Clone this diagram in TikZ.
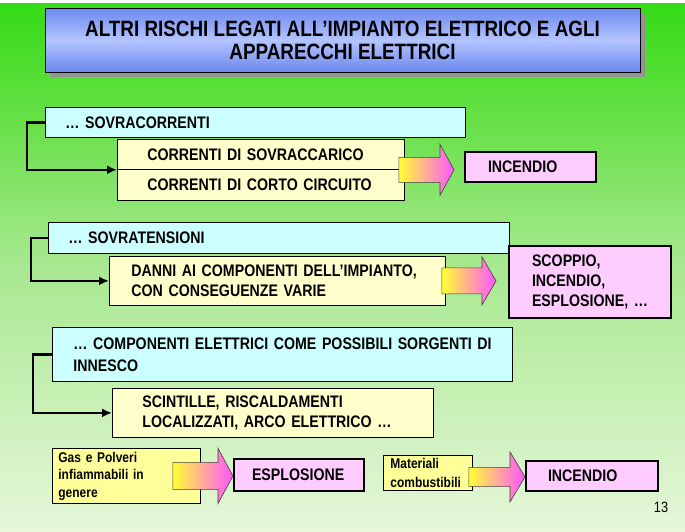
\documentclass[tikz,border=0pt]{standalone}
\usepackage{fontspec}
\setmainfont{Liberation Sans}[FakeStretch=0.85]
\usepackage{xcolor}
\definecolor{risbgtop}{HTML}{35DC16}
\definecolor{risbgup}{HTML}{5EDF3E}
\definecolor{risbgmid}{HTML}{A6E88E}
\definecolor{risbgbot}{HTML}{E6F7DA}
\definecolor{ristitle}{HTML}{6A88EE}
\definecolor{ristitlelt}{HTML}{B4C4FF}
\definecolor{riscyan}{HTML}{CCFFFF}
\definecolor{risyel}{HTML}{FFFFCC}
\definecolor{risyeldk}{HTML}{FFFF99}
\definecolor{rispink}{HTML}{FFCCFF}
\definecolor{risarryel}{HTML}{FFFF33}
\definecolor{risarrmag}{HTML}{FF55FF}
\usepackage{tikz}
\usetikzlibrary{arrows.meta,calc,shadows}

% fat shaded arrow: tail, tip, half body, half head, head length
\newcommand{\bigarrow}[5]{%
  \path[bigarr] let \p1=(#1), \p2=(#2) in
    (\x1,\y1+#3) -- (\x2-#5,\y1+#3) -- (\x2-#5,\y1+#4) -- (\x2,\y1)
    -- (\x2-#5,\y1-#4) -- (\x2-#5,\y1-#3) -- (\x1,\y1-#3) -- cycle;}

\begin{document}
\begin{tikzpicture}[x=1pt,y=-1pt,
  titlebox/.style={draw,line width=1pt,top color=ristitle,bottom color=ristitle,middle color=ristitlelt,
    minimum width=595pt,minimum height=64pt,inner sep=0pt,align=center,
    font=\bfseries\fontsize{22.2}{23}\selectfont,
    general shadow={fill=gray!85,shadow xshift=5pt,shadow yshift=-5pt}},
  box/.style={draw,line width=0.8pt,anchor=north west,inner ysep=0pt,align=left,
    font=\bfseries\fontsize{16.7}{20}\selectfont},
  small/.style={font=\bfseries\fontsize{14.1}{17.5}\selectfont},
  result/.style={box,fill=rispink,line width=2pt},
  conn/.style={line width=2.3pt,-{Latex[length=10pt,width=9pt]}},
  bigarr/.style={draw=black!75,line width=0.6pt,left color=risarryel,right color=risarrmag}]
\useasboundingbox (0,0) rectangle (685,531);
\fill[top color=risbgtop,bottom color=risbgup] (0,3) rectangle (685,100.5);
\fill[top color=risbgup,bottom color=risbgmid] (0,100) rectangle (685,260.5);
\fill[top color=risbgmid,bottom color=risbgbot] (0,260) rectangle (685,531);

\node[titlebox] (titolo) at (342.5,40) {ALTRI RISCHI LEGATI ALL’IMPIANTO ELETTRICO E AGLI\\APPARECCHI ELETTRICI};

\node[box,fill=riscyan,text width=380pt,inner xsep=20pt,minimum height=30pt] (sovracorr) at (45,107) {… SOVRACORRENTI};
\node[box,fill=risyel,text width=227pt,inner xsep=30pt,minimum height=30pt] (sovraccarico) at (117,139) {CORRENTI DI SOVRACCARICO};
\node[box,fill=risyel,text width=227pt,inner xsep=30pt,minimum height=31pt] (cortocirc) at (117,169) {CORRENTI DI CORTO CIRCUITO};
\node[result,text width=85pt,inner xsep=23pt,minimum height=30pt] (incendio1) at (464,151) {INCENDIO};

\node[box,fill=riscyan,text width=421pt,inner xsep=20pt,minimum height=31pt] (sovraten) at (48,222) {… SOVRATENSIONI};
\node[box,fill=risyel,text width=292pt,inner xsep=22pt,minimum height=49pt] (danni) at (109,256) {\mbox{DANNI AI COMPONENTI DELL’IMPIANTO,}\\CON CONSEGUENZE VARIE};
\node[result,text width=116pt,inner xsep=23pt,minimum height=72pt] (scoppio) at (508,245) {SCOPPIO,\\INCENDIO,\\\mbox{ESPLOSIONE, …}};

\node[box,fill=riscyan,text width=418pt,inner xsep=21pt,minimum height=54pt,
  font=\bfseries\fontsize{16.7}{22}\selectfont] (componenti) at (52,327) {\mbox{… COMPONENTI ELETTRICI COME POSSIBILI SORGENTI DI}\\INNESCO};
\node[box,fill=risyel,text width=261pt,inner xsep=30pt,minimum height=49pt] (scintille) at (112,388) {SCINTILLE, RISCALDAMENTI\\\mbox{LOCALIZZATI, ARCO ELETTRICO …}};

\node[box,small,fill=risyeldk,text width=136pt,inner xsep=6pt,minimum height=55pt] (gas) at (52,448) {Gas e Polveri\\infiammabili in\\genere};
\node[result,text width=94pt,inner xsep=18pt,minimum height=32pt] (esplosione) at (233,458) {ESPLOSIONE};
\node[box,fill=risyeldk,text width=75pt,inner xsep=7pt,minimum height=35pt,
  font=\bfseries\fontsize{14.1}{19}\selectfont] (materiali) at (383,455) {Materiali\\combustibili};
\node[result,text width=88pt,inner xsep=22pt,minimum height=30pt] (incendio2) at (525,460) {INCENDIO};

\node[font=\fontsize{15}{17}\selectfont] (pagina) at (661,507) {13};

\draw[conn] (sovracorr.west) -- ++(-18,0) |- (sovraccarico.south west);
\draw[conn] (sovraten.west) -- ++(-17,0) |- (danni.west);
\draw[conn] (componenti.west) -- ++(-19,0) |- (scintille.west);

\bigarrow{$(sovraccarico.south east)+(-6,0)$}{$(sovraccarico.south east -| incendio1.west)+(-10,0)$}{12.5pt}{25.5pt}{14pt}
\bigarrow{$(danni.east)+(-4,0)$}{$(danni.east -| scoppio.west)+(-12,0)$}{13pt}{24pt}{14pt}
\bigarrow{$(gas.east)+(-28,0)$}{$(gas.east -| esplosione.west)$}{13.5pt}{27.5pt}{15pt}
\bigarrow{$(materiali.east)+(-4,4)$}{$(materiali.east -| incendio2.west)+(0,4)$}{9.5pt}{25pt}{15pt}
\end{tikzpicture}
\end{document}
